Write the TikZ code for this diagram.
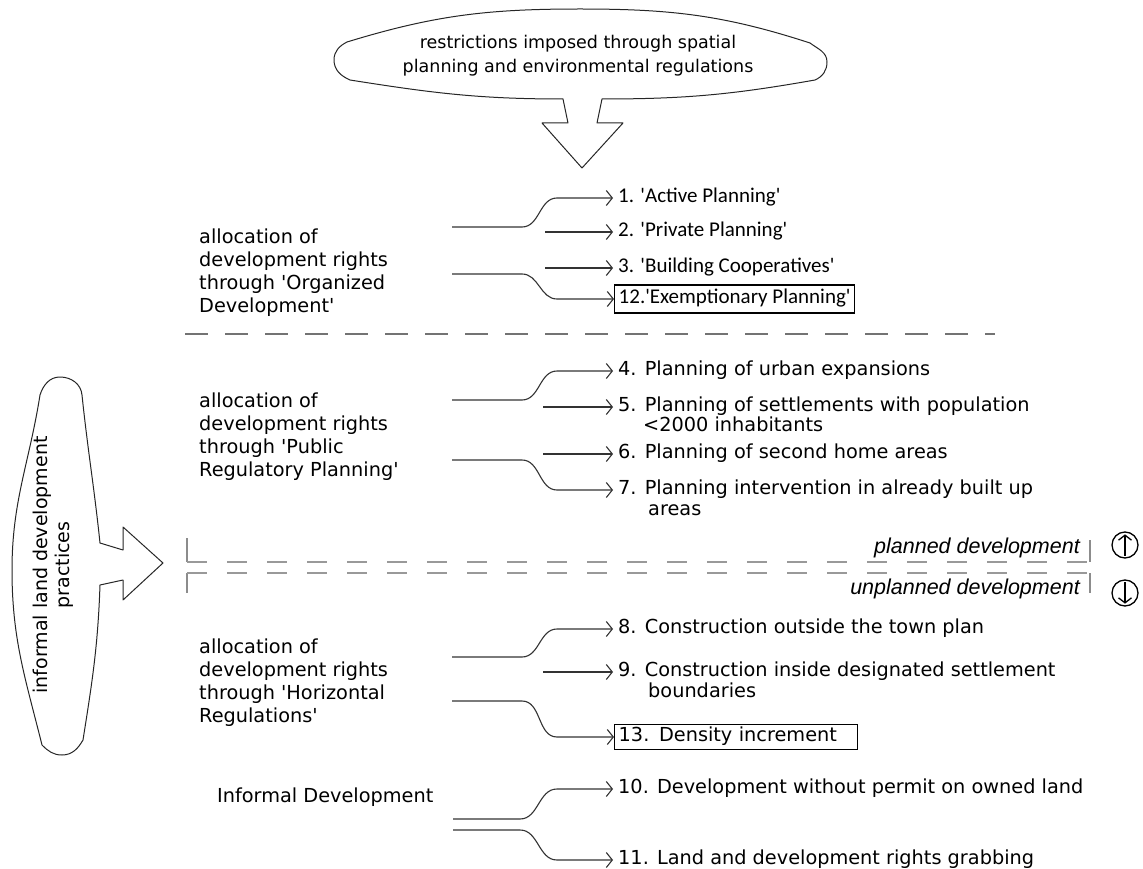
\documentclass[tikz,border=0pt]{standalone}
\usepackage{fontspec}
\newfontfamily\dv{DejaVu Sans}
\newfontfamily\carl{Carlito}
\newfontfamily\itfont{Liberation Sans}
\usetikzlibrary{arrows.meta,calc}
\begin{document}
\begin{tikzpicture}[x=1pt,y=-1pt,
  txt/.style={font=\dv\fontsize{19.3}{23}\selectfont},
  item/.style={txt, anchor=west, inner xsep=5pt, inner ysep=3pt, text height=14.5pt, text depth=4.7pt},
  citem/.style={font=\carl\fontsize{21}{25}\selectfont, anchor=west, inner xsep=5pt, inner ysep=3pt, text height=14.5pt, text depth=4.8pt},
  cont/.style={txt, anchor=west, inner sep=0pt, text height=14.5pt, text depth=4.7pt},
  boxed/.style={draw=black, line width=1.4pt, inner xsep=4pt},
  grp/.style={txt, anchor=west, align=left, inner sep=0pt},
  conn/.style={draw=black!80, line width=1.1pt, -{Straight Barb[length=6pt,width=15pt]}},
  bubble/.style={draw=black!85, line width=1pt, fill=white, line join=round},
  sepA/.style={draw=black!55, line width=1.3pt, dash pattern=on 23pt off 17pt},
  sepB/.style={draw=black!40, line width=1.3pt, dash pattern=on 20pt off 20pt},
  tick/.style={draw=black!45, line width=1.3pt},
  itl/.style={font=\itfont\itshape\fontsize{21.5}{24}\selectfont, anchor=east, inner sep=0pt},
  updown/.style={circle, draw=black, line width=1.3pt, minimum size=26pt, inner sep=0pt},
  udarrow/.style={draw=black, line width=1.3pt, -{Straight Barb[length=5pt,width=13pt]}}
]
\useasboundingbox (0,0) rectangle (1143,869);

% top bubble
\draw[bubble] (563,99) -- (568,123) -- (542,123) -- (582,168) -- (623,123) -- (597,123) -- (602,99)
  to[out=0,in=-170] (815,80) to[out=24,in=-90] (827,62) to[out=90,in=-37] (810,43)
  to[out=162,in=0] (580,9) to[out=180,in=17] (347,42) to[out=-153,in=90] (334,60)
  to[out=-90,in=156] (350,80) to[out=-9,in=180] (563,99) -- cycle;
\node[font=\dv\fontsize{17.5}{24}\selectfont, align=center] (top) at (578,56) {restrictions imposed through spatial\\planning and environmental regulations};

% left bubble
\draw[bubble] (100,543) -- (123,550) -- (123,527) -- (163,563) -- (123,600) -- (123,580) -- (100,585)
  to[out=-92,in=81] (83,740) to[out=-120,in=0] (62,755) to[out=180,in=-45] (42,745)
  to[out=104,in=-90] (12,570) to[out=90,in=-99] (40,395) to[out=72,in=180] (60,377)
  to[out=0,in=95] (82,395) to[out=-84,in=96] (100,543) -- cycle;
\node[font=\dv\fontsize{19}{22}\selectfont, align=center, rotate=90] (left) at (53,565) {informal land development\\practices};

% separators
\draw[sepA] (185,334) -- (995,334);
\draw[tick] (187,538) -- (187,562);
\draw[tick] (187,573) -- (187,593);
\draw[tick] (1090,540) -- (1090,562);
\draw[tick] (1090,573) -- (1090,593);
\draw[sepB] (187,562) -- (1090,562);
\draw[sepB] (187,573) -- (1090,573);
\node[itl] (pl) at (1080,548) {planned development};
\node[itl] (unpl) at (1080,589) {unplanned development};
\node[updown] (up) at (1125,545) {};
\node[updown] (dn) at (1125,593) {};
\draw[udarrow] ($(up.south)+(0,-3)$) -- ($(up.north)+(0,3)$);
\draw[udarrow] ($(dn.north)+(0,3)$) -- ($(dn.south)+(0,-3)$);

% group labels
\node[grp] (g1) at (199,273) {allocation of\\development rights\\through 'Organized\\Development'};
\node[grp] (g2) at (199,437) {allocation of\\development rights\\through 'Public\\Regulatory Planning'};
\node[grp] (g3) at (199,683) {allocation of\\development rights\\through 'Horizontal\\Regulations'};
\node[grp] (g4) at (217,797) {Informal Development};

% items
\node[citem] (i1) at (613,198) {1. 'Active Planning'};
\node[citem] (i2) at (613,232) {2. 'Private Planning'};
\node[citem] (i3) at (613,268) {3. 'Building Cooperatives'};
\node[citem, boxed, minimum height=28pt] (i12) at (614,299) {12.'Exemptionary Planning'};
\node[item] (i4) at (613,371) {4. Planning of urban expansions};
\node[item] (i5) at (613,407) {5. Planning of settlements with population};
\node[cont] (i5b) at ($(i5.west)+(30,20)$) {<2000 inhabitants};
\node[item] (i6) at (613,454) {6. Planning of second home areas};
\node[item] (i7) at (613,490) {7. Planning intervention in already built up};
\node[cont] (i7b) at ($(i7.west)+(35,21)$) {areas};
\node[item] (i8) at (613,629) {8. Construction outside the town plan};
\node[item] (i9) at (613,672) {9. Construction inside designated settlement};
\node[cont] (i9b) at ($(i9.west)+(35,21)$) {boundaries};
\node[item, boxed, text width=235pt, align=left] (i13) at (614,737) {13. Density increment};
\node[item] (i10) at (613,789) {10. Development without permit on owned land};
\node[item] (i11) at (613,860) {11. Land and development rights grabbing};

% connector start points
\coordinate (a1) at (452,227);
\coordinate (b1) at (452,274);
\coordinate (m2) at (545,232);
\coordinate (m3) at (545,268);
\coordinate (a2) at (452,400);
\coordinate (b2) at (452,460);
\coordinate (m5) at (543,407);
\coordinate (m6) at (543,454);
\coordinate (a3) at (452,657);
\coordinate (b3) at (452,701);
\coordinate (m9) at (543,672);
\coordinate (a4) at (453,819);
\coordinate (b4) at (453,830);

% connectors
\draw[conn] (a1) -- ++(70,0) to[out=0,in=180] ($(i1.west)+(-56,0)$) -- (i1.west);
\draw[conn] (m2) -- (i2.west);
\draw[conn] (m3) -- (i3.west);
\draw[conn] (b1) -- ++(70,0) to[out=0,in=180] ($(i12.west)+(-57,0)$) -- (i12.west);
\draw[conn] (a2) -- ++(70,0) to[out=0,in=180] ($(i4.west)+(-56,0)$) -- (i4.west);
\draw[conn] (m5) -- (i5.west);
\draw[conn] (m6) -- (i6.west);
\draw[conn] (b2) -- ++(70,0) to[out=0,in=180] ($(i7.west)+(-56,0)$) -- (i7.west);
\draw[conn] (a3) -- ++(70,0) to[out=0,in=180] ($(i8.west)+(-56,0)$) -- (i8.west);
\draw[conn] (m9) -- (i9.west);
\draw[conn] (b3) -- ++(70,0) to[out=0,in=180] ($(i13.west)+(-57,0)$) -- (i13.west);
\draw[conn] (a4) -- ++(67,0) to[out=0,in=180] ($(i10.west)+(-56,0)$) -- (i10.west);
\draw[conn] (b4) -- ++(67,0) to[out=0,in=180] ($(i11.west)+(-56,0)$) -- (i11.west);
\end{tikzpicture}
\end{document}
